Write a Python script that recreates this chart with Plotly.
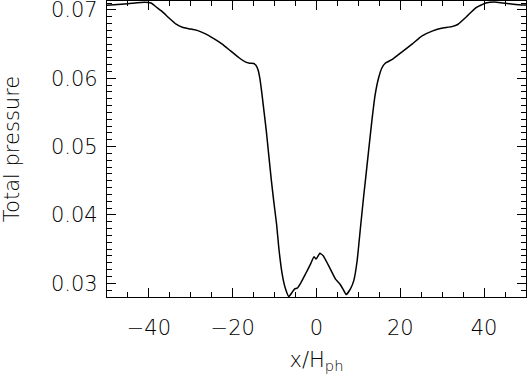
import plotly.graph_objects as go

# total pressure profile across the structure
x_hph = [-50, -45, -41, -39.5, -38, -37, -35, -33.5, -32, -30.5, -28.5, -26.5,
         -24.5, -22.5, -20.5, -18.5, -17, -16, -15, -14.5, -14, -13.5, -13,
         -12.5, -12, -11.4, -10.8, -10.2, -9.5, -9, -8.2, -7.4, -6.6, -5.8,
         -5.2, -4.6, -3.8, -2.6, -1.4, -0.6, -0.1, 0.8, 1.6, 2.5, 3.7, 4.5,
         5.7, 6.5, 7.1, 8.1, 8.9, 9.7, 10.5, 11.3, 11.7, 12.4, 13.2, 14.0,
         14.8, 15.6, 16.4, 18.2, 20.5, 22.8, 25.2, 27.6, 29.8, 32.3, 33.8,
         35.8, 38.0, 40.4, 42.5, 44.5, 47.5, 50]
p_total = [0.07068, 0.07090, 0.07112, 0.07100, 0.07030, 0.06985, 0.06870,
           0.06790, 0.06745, 0.06725, 0.06700, 0.06650, 0.06580, 0.06500,
           0.06400, 0.06300, 0.06240, 0.06220, 0.06215, 0.06195, 0.06130,
           0.05990, 0.05760, 0.05500, 0.05240, 0.04880, 0.04520, 0.04200,
           0.03850, 0.03520, 0.03140, 0.02920, 0.02806, 0.02870, 0.02920,
           0.02930, 0.03000, 0.03140, 0.03285, 0.03390, 0.03355, 0.03440,
           0.03405, 0.03305, 0.03160, 0.03065, 0.02980, 0.02895, 0.02835,
           0.02920, 0.03040, 0.03330, 0.03820, 0.04300, 0.04520, 0.04920,
           0.05370, 0.05760, 0.06000, 0.06150, 0.06220, 0.06280, 0.06390,
           0.06500, 0.06620, 0.06690, 0.06730, 0.06755, 0.06790, 0.06900,
           0.07030, 0.07100, 0.07115, 0.07100, 0.07080, 0.07070]

fig = go.Figure(go.Scatter(x=x_hph, y=p_total, mode="lines",
                           line=dict(color="black", width=1.5, shape="spline", smoothing=0.4),
                           showlegend=False))

font = dict(family="DejaVu Sans", size=21, color="black", weight=300)
axis_common = dict(showgrid=False, zeroline=False, showline=True, linecolor="black",
                   linewidth=1.3, mirror="allticks", ticks="inside", ticklen=9,
                   tickwidth=1.3, tickcolor="black", tickfont=font,
                   automargin=False, ticklabeloverflow="allow")

fig.update_xaxes(range=[-50, 50], tick0=-40, dtick=20,
                 minor=dict(dtick=5, ticks="inside", ticklen=5, tickcolor="black", tickwidth=1),
                 title=dict(text="x/H<sub>ph</sub>", font=font, standoff=12),
                 ticklabelstandoff=12, **axis_common)
fig.update_yaxes(range=[0.0280, 0.0713], tick0=0.03, dtick=0.01, tickformat=".2f",
                 minor=dict(dtick=0.001, ticks="inside", ticklen=5, tickcolor="black", tickwidth=1),
                 title=dict(text="Total pressure", font=font, standoff=28),
                 ticklabelstandoff=4, **axis_common)

fig.update_layout(width=528, height=375, margin=dict(l=107, r=2, t=1, b=78),
                  plot_bgcolor="white", paper_bgcolor="white", font=font)

# page body has a default 8px margin; drop it so the figure sits at the corner
fig.write_html("out.html", config={"displayModeBar": False},
               post_script="document.body.style.margin='0';")
